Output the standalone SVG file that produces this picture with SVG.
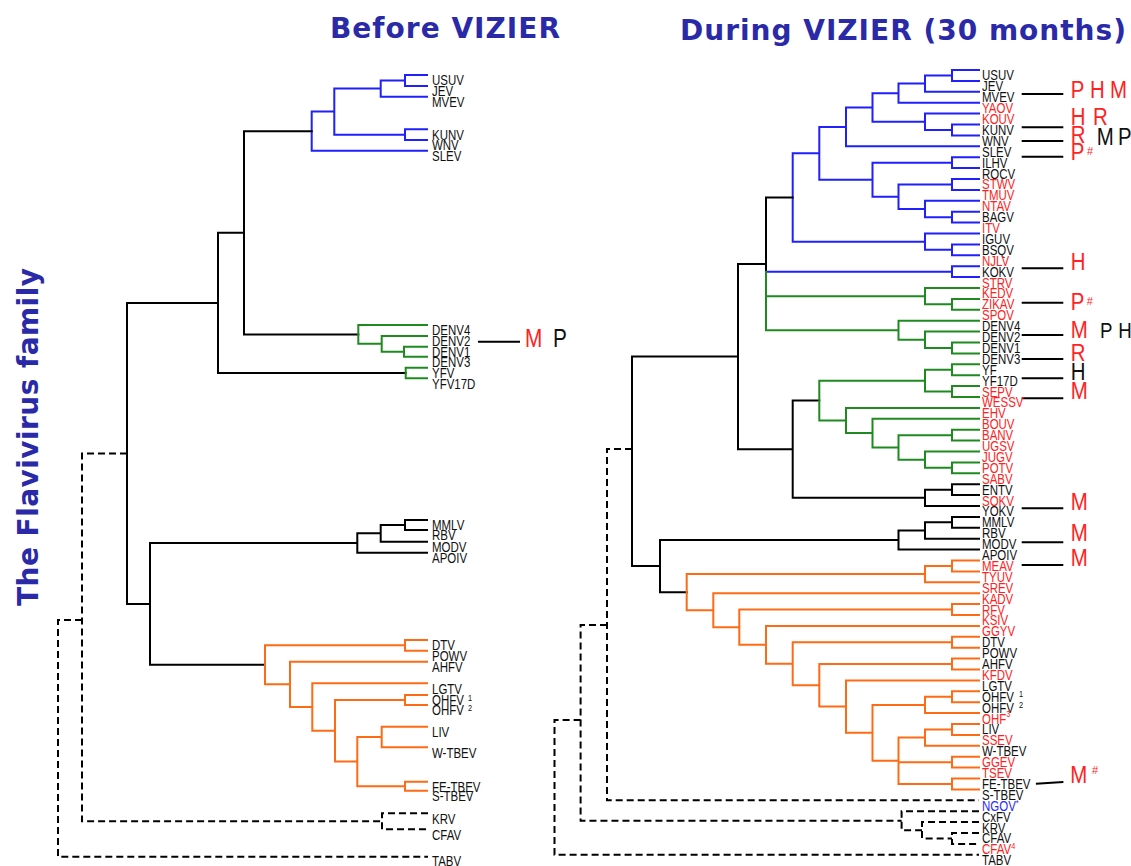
<svg xmlns="http://www.w3.org/2000/svg" width="1131" height="866" viewBox="0 0 1131 866">
<style>
.e{fill:none;stroke-width:2;stroke-linecap:square}
.k{stroke:#000}
.b{stroke:#1f1fff}
.g{stroke:#1f8a1f}
.o{stroke:#ff6a14}
.d{stroke:#000;stroke-dasharray:7 4;stroke-linecap:butt}
.a{stroke:#000;stroke-width:2;fill:none}
text{font-family:"Liberation Sans",Arial,sans-serif;font-size:14px;fill:#111}
.r{fill:#ff2222}
.bl{fill:#2a2aff}
.big{font-size:24px}
.sup{font-size:9px}
.hs{font-size:11px}
.t{font-family:"DejaVu Sans",Verdana,sans-serif;font-weight:bold;font-size:28px;fill:#2a2aa8}
</style>
<g id="titles">
<text class="t" x="330" y="38" textLength="230">Before VIZIER</text>
<text class="t" x="680" y="40" textLength="446">During VIZIER (30 months)</text>
<text class="t" transform="translate(38,606) rotate(-90)" textLength="338">The Flavivirus family</text>
</g>
<g id="connectors">
<path class="e b" d="M427 75H405V86H427M405 80.5H380.7V96.7H427M427 129.3H405V140H427M380.7 88.6H334.3V134.65H405M334.3 111.6H311.7V150.7H427"/>
<path class="e k" d="M311.7 131.15H244V334.4H358.3M244 232.8H218V373H405.7M218 302.9H127V603.9H150M357.3 543H150V664.85H265M380.7 533.35H357.3V552.7H427M405 525H380.7V541.7H427M427 520H405V530H427"/>
<path class="e g" d="M427 325H358.3V343.85H381.7M427 336H381.7V351.7H404M427 346.7H404V356.7H427M427 367.7H405.7V378.3H427"/>
<path class="e o" d="M405 645.35H265V684.35H290M427 640H405V650.7H427M427 661.7H290V707H312.3M427 683.3H312.3V730.8H335M405 700H335V761.6H357.3M427 695H405V705H427M381.7 737H357.3V786.2H405M427 726.7H381.7V747.3H427M427 781.7H405V790.7H427"/>
<path class="e d" d="M127 453.4H82V821.3H382M428 813.3H382V829.3H428M82 620H58V856.7H428"/>
<path class="e b" d="M979 70H952V80.9H979M952 75.45H925V91.8H979M925 83.6H898.5V102.7H979M979 124.5H952V135.4H979M979 113.6H925V129.95H952M898.5 93.2H872.5V121.8H925M872.5 107.5H846V146.3H979M979 157.2H952V168.1H979M979 179H952V189.9H979M979 211.7H952V222.6H979M979 200.8H925V217.15H952M952 184.45H898.5V209H925M952 162.65H872.5V196.7H898.5M846 126.9H819.3V179.7H872.5M979 244.4H952V255.3H979M979 233.5H925V249.85H952M819.3 153.3H792.7V241.7H925M979 266.2H952V277.1H979M766 271.65H952"/>
<path class="e k" d="M792.7 197.5H766V271.65M766 263.9H738V449.2H792.7M819.3 400.6H792.7V497.8H925M979 484.2H952V495.1H979M952 489.65H925V506H979M738 356.55H632V566.1H660M898.5 540.05H660V592.15H686.7M925 530.5H898.5V549.6H979M952 522.35H925V538.7H979M979 516.9H952V527.8H979"/>
<path class="e g" d="M766 271.65V330.25H898.5M766 296.2H925M979 298.9H952V309.8H979M979 288H925V304.35H952M979 342.5H952V353.4H979M979 331.6H925V347.95H952M979 320.7H898.5V339.8H925M979 364.3H952V375.2H979M979 386.1H952V397H979M952 369.75H925V391.55H952M979 429.7H952V440.6H979M979 462.4H952V473.3H979M979 451.5H925V467.85H952M952 435.15H898.5V459.7H925M979 418.8H872.5V447.4H898.5M979 407.9H846V433.1H872.5M925 380.65H819.3V420.5H846"/>
<path class="e o" d="M925 574.1H686.7V610.2H713.3M952 565.95H925V582.3H979M979 560.5H952V571.4H979M979 593.2H713.3V627.2H739.3M952 609.55H739.3V644.85H766M979 604.1H952V615H979M979 625.9H766V663.8H792.7M952 642.25H792.7V685.3H819.3M979 636.8H952V647.7H979M952 664.05H819.3V706.6H846M979 658.6H952V669.5H979M979 680.4H846V732.85H872.5M925 704.9H872.5V760.8H898.5M952 696.75H925V713.1H979M979 691.3H952V702.2H979M925 737.6H898.5V783.95H952M898.5 762.15H952M952 729.45H925V745.8H979M979 724H952V734.9H979M979 756.7H952V767.6H979M979 778.5H952V789.4H979"/>
<path class="e d" d="M632 449H607V800.3H979M607 625H580.6V820.75H901.6M979 811.2H901.6V830.3H922M979 822.1H922V838.45H952M979 833H952V843.9H979M580.6 720H554.5V854.8H979"/>
<path class="a" d="M478 341.7H520M1021.7 94H1063.3M1021.7 127.3H1063.3M1021.7 141H1063.3M1021.7 156.7H1063.3M1021.7 268.3H1063.3M1021.7 302.7H1063.3M1021.7 335H1063.3M1021.7 359H1063.3M1021.7 378.3H1063.3M1021.7 398.3H1063.3M1021.7 508.3H1063.3M1021.7 542.3H1063.3M1021.7 565H1063.3M1035.9 783.7L1063.4 782"/>
</g>
<g id="left-labels" transform="translate(432,0) scale(0.82,1)">
<text y="85.5">USUV</text>
<text y="96.5">JEV</text>
<text y="107.2">MVEV</text>
<text y="139.8">KUNV</text>
<text y="150.5">WNV</text>
<text y="161.2">SLEV</text>
<text y="335.5">DENV4</text>
<text y="346.5">DENV2</text>
<text y="357.2">DENV1</text>
<text y="367.2">DENV3</text>
<text y="378.2">YFV</text>
<text y="388.8">YFV17D</text>
<text y="530.5">MMLV</text>
<text y="540.5">RBV</text>
<text y="552.2">MODV</text>
<text y="563.2">APOIV</text>
<text y="650.5">DTV</text>
<text y="661.2">POWV</text>
<text y="672.2">AHFV</text>
<text y="693.8">LGTV</text>
<text y="705.5">OHFV<tspan class="sup" x="44" y="701">1</tspan></text>
<text y="715.5">OHFV<tspan class="sup" x="44" y="711">2</tspan></text>
<text y="737.2">LIV</text>
<text y="757.8">W-TBEV</text>
<text y="792.2">FE-TBEV</text>
<text y="801.2">S-TBEV</text>
<text y="823.8">KRV</text>
<text y="839.8">CFAV</text>
<text y="866">TABV</text>
</g>
<g id="left-marks">
<text class="r" transform="translate(525,347) scale(0.8,1)" style="font-size:26px">M</text>
<text transform="translate(553,347) scale(0.8,1)" style="font-size:26px">P</text>
</g>
<g id="right-labels" transform="translate(982,0) scale(0.82,1)">
<text y="80.5">USUV</text>
<text y="91.4">JEV</text>
<text y="102.3">MVEV</text>
<text class="r" y="113.2">YAOV</text>
<text class="r" y="124.1">KOUV</text>
<text y="135">KUNV</text>
<text y="145.9">WNV</text>
<text y="156.8">SLEV</text>
<text y="167.7">ILHV</text>
<text y="178.6">ROCV</text>
<text class="r" y="189.5">STWV</text>
<text class="r" y="200.4">TMUV</text>
<text class="r" y="211.3">NTAV</text>
<text y="222.2">BAGV</text>
<text class="r" y="233.1">ITV</text>
<text y="244">IGUV</text>
<text y="254.9">BSQV</text>
<text class="r" y="265.8">NJLV</text>
<text y="276.7">KOKV</text>
<text class="r" y="287.6">STRV</text>
<text class="r" y="298.5">KEDV</text>
<text class="r" y="309.4">ZIKAV</text>
<text class="r" y="320.3">SPOV</text>
<text y="331.2">DENV4</text>
<text y="342.1">DENV2</text>
<text y="353">DENV1</text>
<text y="363.9">DENV3</text>
<text y="374.8">YF</text>
<text y="385.7">YF17D</text>
<text class="r" y="396.6">SEPV</text>
<text class="r" y="407.5">WESSV</text>
<text class="r" y="418.4">EHV</text>
<text class="r" y="429.3">BOUV</text>
<text class="r" y="440.2">BANV</text>
<text class="r" y="451.1">UGSV</text>
<text class="r" y="462">JUGV</text>
<text class="r" y="472.9">POTV</text>
<text class="r" y="483.8">SABV</text>
<text y="494.7">ENTV</text>
<text class="r" y="505.6">SOKV</text>
<text y="516.5">YOKV</text>
<text y="527.4">MMLV</text>
<text y="538.3">RBV</text>
<text y="549.2">MODV</text>
<text y="560.1">APOIV</text>
<text class="r" y="571">MEAV</text>
<text class="r" y="581.9">TYUV</text>
<text class="r" y="592.8">SREV</text>
<text class="r" y="603.7">KADV</text>
<text class="r" y="614.6">RFV</text>
<text class="r" y="625.5">KSIV</text>
<text class="r" y="636.4">GGYV</text>
<text y="647.3">DTV</text>
<text y="658.2">POWV</text>
<text y="669.1">AHFV</text>
<text class="r" y="680">KFDV</text>
<text y="690.9">LGTV</text>
<text y="701.8">OHFV<tspan class="sup" x="45" y="697">1</tspan></text>
<text y="712.7">OHFV<tspan class="sup" x="45" y="708">2</tspan></text>
<text class="r" y="723.6">OHF<tspan class="sup r" y="717">3</tspan></text>
<text y="734.5">LIV</text>
<text class="r" y="745.4">SSEV</text>
<text y="756.3">W-TBEV</text>
<text class="r" y="767.2">GGEV</text>
<text class="r" y="778.1">TSEV</text>
<text y="789">FE-TBEV</text>
<text y="799.9">S-TBEV</text>
<text class="bl" y="810.8">NGOV<tspan class="sup bl" y="806">*</tspan></text>
<text y="821.7">CxFV</text>
<text y="832.6">KRV</text>
<text y="843.5">CFAV</text>
<text class="r" y="854.4">CFAV<tspan class="sup r" y="849">4</tspan></text>
<text y="865">TABV</text>
</g>
<g id="right-marks">
<text class="big r" transform="translate(1070.7,98) scale(0.85,1)">P</text>
<text class="big r" transform="translate(1090,98) scale(0.85,1)">H</text>
<text class="big r" transform="translate(1110,98) scale(0.85,1)">M</text>
<text class="big r" transform="translate(1070.7,125) scale(0.85,1)">H</text>
<text class="big r" transform="translate(1093,125) scale(0.85,1)">R</text>
<text class="big r" transform="translate(1070.7,143) scale(0.85,1)">R</text>
<text class="big" transform="translate(1096.7,145) scale(0.85,1)">M</text>
<text class="big" transform="translate(1118,145) scale(0.85,1)">P</text>
<text class="big r" transform="translate(1070.7,160) scale(0.85,1)">P</text>
<text class="hs r" x="1087" y="155">#</text>
<text class="big r" transform="translate(1070.7,270) scale(0.85,1)">H</text>
<text class="big r" transform="translate(1070.7,310) scale(0.85,1)">P</text>
<text class="hs r" x="1086.7" y="305">#</text>
<text class="big r" transform="translate(1070.7,338) scale(0.85,1)">M</text>
<text class="big" transform="translate(1100,338) scale(0.85,1)" style="font-size:22px">P</text>
<text class="big" transform="translate(1118.3,338) scale(0.85,1)" style="font-size:22px">H</text>
<text class="big r" transform="translate(1070.7,361) scale(0.85,1)">R</text>
<text class="big" transform="translate(1070.7,380) scale(0.85,1)">H</text>
<text class="big r" transform="translate(1070.7,399) scale(0.85,1)">M</text>
<text class="big r" transform="translate(1070.7,510) scale(0.85,1)">M</text>
<text class="big r" transform="translate(1070.7,541) scale(0.85,1)">M</text>
<text class="big r" transform="translate(1070.7,566) scale(0.85,1)">M</text>
<text class="big r" transform="translate(1070.3,783) scale(0.85,1)">M</text>
<text class="hs r" x="1092" y="774">#</text>
</g>
</svg>
